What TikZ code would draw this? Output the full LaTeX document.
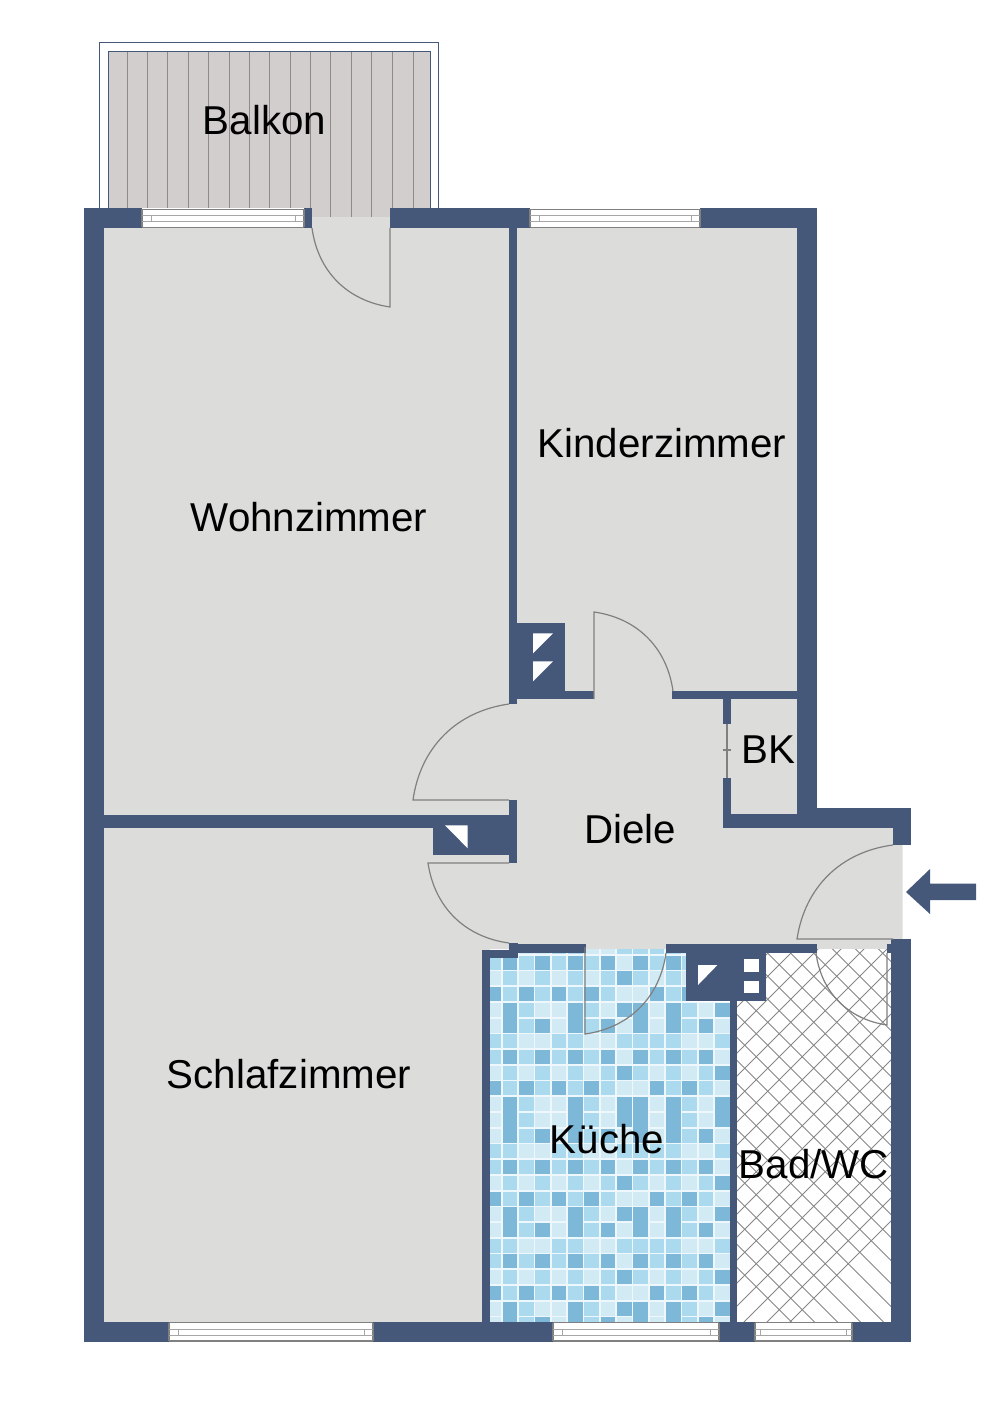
\documentclass[tikz,border=0pt]{standalone}
\usepackage{fontspec}
\setmainfont{Liberation Sans}
\usepackage{tikz}
\definecolor{wall}{HTML}{46587A}
\definecolor{floorgrey}{HTML}{DCDCDA}
\definecolor{plank}{HTML}{D3CECE}
\definecolor{plankline}{HTML}{8E8A8A}
\definecolor{doorline}{HTML}{808080}
\definecolor{grout}{HTML}{EEF7FB}
\definecolor{tileD}{HTML}{7DB8D9}
\definecolor{tileM}{HTML}{ABD9EE}
\definecolor{tileL}{HTML}{D2EAF4}
\tikzstyle{walls}=[fill=wall,draw=none]
\tikzstyle{door}=[draw=doorline,line width=1.2pt]
\tikzstyle{pane}=[draw=doorline!70,line width=0.8pt]
\tikzstyle{room}=[inner sep=0pt,font=\fontsize{40.3}{40}\selectfont]
% window: x1, x2, top, tick offset
\newcommand{\fenster}[4]{
    \fill[white] (#1,#3) rectangle (#2,#3+20);
    \draw[doorline,line width=1.2pt] (#1,#3+0.8) -- (#2,#3+0.8) (#1,#3+19) -- (#2,#3+19) (#1,#3+0.8) -- (#1,#3+19) (#2,#3+0.8) -- (#2,#3+19);
    \draw[pane] (#1,#3+7) -- (#2,#3+7) (#1,#3+13) -- (#2,#3+13) (#1+#4,#3+7) -- (#1+#4,#3+13) (#2-#4,#3+7) -- (#2-#4,#3+13);
}
% mosaic rows of the kitchen
\def\rowA{L,D,M,L,L,D,M,L,D,D,L,D,M,L,D}
\def\rowB{L,D,M,D,L,D,M,D,L,D,L,D,M,D,L}
\def\rowC{M,M,L,L,M,M,L,L,M,M,M,M,L,L,M}
\def\rowE{M,D,M,D,M,D,M,D,L,D,M,D,M,D,L}
\def\rowF{L,M,L,M,L,M,L,M,D,M,L,M,L,M,D}
\def\rowG{D,M,D,M,D,M,D,M,L,L,D,M,D,M,L}
\begin{document}
\begin{tikzpicture}[x=1pt,y=-1pt]
    \useasboundingbox (0,0) rectangle (1000,1415);
    \fill[white] (0,0) rectangle (1000,1415);

    % Balkon
    \draw[wall,line width=1pt] (99.5,209) -- (99.5,43) -- (438.5,43) -- (438.5,209);
    \fill[plank] (108,52) rectangle (430,217);
    \foreach \x in {127.3,147.7,167.7,188.3,208.3,229,249.3,269.7,290,310,330.7,351,371.7,392,413.3}
        \draw[plankline,line width=1pt] (\x,52) -- (\x,217);
    \draw[wall,line width=1pt] (108,209) -- (108,52) -- (430,52) -- (430,209);

    % Floors
    \fill[floorgrey] (84,217) -- (817,217) -- (817,808) -- (902.5,808) -- (902.5,949) -- (84,949) -- cycle;
    \fill[floorgrey] (84,949) rectangle (490,1330);
    \fill[plank] (312,208) rectangle (390,217);
    \foreach \x in {330.7,351,371.7}
        \draw[plankline,line width=1pt] (\x,208) -- (\x,217);

    % Kueche mosaic
    \begin{scope}
        \clip (489.5,957.5) -- (518,957.5) -- (518,949) -- (686,949) -- (686,1002) -- (730,1002) -- (730,1322) -- (489.5,1322) -- cycle;
        \fill[grout] (480,940) rectangle (740,1330);
        \foreach \row/\cells in {-1/\rowC,0/\rowE,1/\rowF,2/\rowG,3/\rowA,4/\rowB,5/\rowC,6/\rowE,7/\rowF,8/\rowG,9/\rowA,10/\rowA,11/\rowB,12/\rowC,13/\rowE,14/\rowF,15/\rowG,16/\rowA,17/\rowB,18/\rowC,19/\rowE,20/\rowF,21/\rowG,22/\rowA,23/\rowB}{
            \edef\celllist{\cells}
            \foreach \c [count=\k from 0] in \celllist
                \fill[tile\c] (486.3+16.33*\k,955.7+15.72*\row) rectangle +(14.6,14);
        }
        % dark tiles that run together
        \foreach \row in {3,9,10,16,22}
            \foreach \k in {1,5,9,11}
                \fill[tileD] (486.3+16.33*\k,968+15.72*\row) rectangle +(14.6,5);
        \foreach \k in {8,14}
            \fill[tileD] (486.3+16.33*\k,968+15.72*9) rectangle +(14.6,5);
    \end{scope}

    % Bad hatching
    \begin{scope}
        \clip (736.7,949) rectangle (891,1322);
        \fill[white] (730,940) rectangle (900,1330);
        \foreach \d in {-14,...,14}
            \draw[gray!95,line width=0.9pt] (790.7+23*\d-200,999.3-200) -- (790.7+23*\d+400,999.3+400)
                (790.7+23*\d+200,999.3-200) -- (790.7+23*\d-400,999.3+400);
    \end{scope}

    % Walls
    \foreach \xa/\ya/\xb/\yb in {84/208.5/142/228,304/208.5/312/228,390/208.5/817/228,84/208.5/104/1342,84/1322/911/1342,
        797/208.5/817/828,817/808/911/828,893/808/911/845,723/814/817/828,723/778/731/828,723/699/731/723.5,
        565/691/594/699.3,672/691/817/699.3,509/228/517.3/704.3,509/623/565/699.3,104/814.7/509/828,433/828/517.3/855,509/800/517.3/862.7,
        482/949.7/518/957.5,509/943/518/957.5,482/949.7/489.5/1342,518/944.3/586/953,666/944.3/817/953,686/953/766/1001,
        730/1001/736.7/1322,887/944.3/891/953,891/939/911/1342}
        \fill[walls] (\xa,\ya) rectangle (\xb,\yb);

    % Chimney flues
    \fill[white] (533,633.3) -- (553,633.3) -- (533,653.3) -- cycle;
    \fill[white] (533,661.3) -- (553,661.3) -- (533,681.3) -- cycle;
    \fill[white] (445,825.3) -- (467.7,825.3) -- (467.7,848.3) -- cycle;
    \fill[white] (698,965) -- (717.4,965) -- (698,985) -- cycle;
    \fill[white] (743.5,959.3) rectangle (758.5,971.5);
    \fill[white] (743.5,981) rectangle (758.5,993);

    % Windows
    \fenster{142}{304}{208.5}{9}
    \fenster{530}{700}{208.5}{9}
    \fenster{169}{373}{1322}{9}
    \fenster{553}{719}{1322}{9}
    \fenster{755}{852}{1322}{5.5}

    % Doors
    \draw[door] (390,228) -- (390,307) to[bend left=37] (312,228);
    \draw[door] (594,699) -- (594,612) to[bend left=37] (673,691);
    \draw[door] (509,800) -- (413,800) to[bend left=37] (509,704);
    \draw[door] (509,863) -- (428,863) to[bend right=37] (509,943);
    \draw[door] (893,939) -- (797,939) to[bend left=37] (893,845);
    \draw[door] (585,947) -- (585,1034) to[bend right=37] (666,953);
    \draw[door] (887,953) -- (887,1025) to[bend left=37] (816,953);
    \draw[door] (727,723.5) -- (727,778) (723,750) -- (731,750);

    % Entrance arrow
    \fill[wall] (906,892) -- (930,869) -- (930,883.5) -- (976,883.5) -- (976,900) -- (930,900) -- (930,914) -- cycle;

    % Labels
    \node[room] (balkon) at (264.5,120) {Balkon};
    \node[room] (wohnzimmer) at (309,517) {Wohnzimmer};
    \node[room] (kinderzimmer) at (662,443) {Kinderzimmer};
    \node[room] (bk) at (768,750) {BK};
    \node[room] (diele) at (630,829) {Diele};
    \node[room] (schlafzimmer) at (289,1074) {Schlafzimmer};
    \node[room] (kueche) at (607,1139) {Küche};
    \node[room] (bad) at (814,1164) {Bad/WC};
\end{tikzpicture}
\end{document}
